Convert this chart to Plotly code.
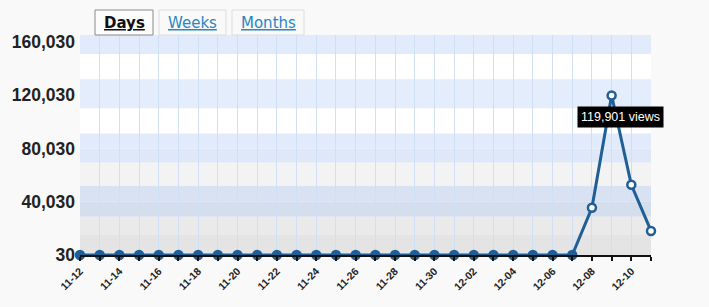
import plotly.graph_objects as go

dates = ["11-12", "11-13", "11-14", "11-15", "11-16", "11-17", "11-18", "11-19", "11-20", "11-21",
         "11-22", "11-23", "11-24", "11-25", "11-26", "11-27", "11-28", "11-29", "11-30", "12-01",
         "12-02", "12-03", "12-04", "12-05", "12-06", "12-07", "12-08", "12-09", "12-10", "12-11"]
views = [30] * 26 + [35500, 119901, 52800, 18100]
y_ticks = [30, 40030, 80030, 120030, 160030]
y_ticktext = ["30", "40,030", "80,030", "120,030", "160,030"]
x_ticktext = [d if i % 2 == 0 else "" for i, d in enumerate(dates)]
tooltip_text = "119,901 views"
tabs = ["Days", "Weeks", "Months"]

Y_MAX = 165300
LINE = "#1f5f96"
fills = [LINE if v <= 30 else "white" for v in views]

fig = go.Figure()
fig.add_trace(go.Scatter(
    x=dates, y=views, mode="lines+markers",
    line=dict(color=LINE, width=3),
    marker=dict(size=8, color=fills, line=dict(color=LINE, width=2.5)),
    cliponaxis=False, hoverinfo="skip",
))

shapes = []
def band(y0, y1, color):
    shapes.append(dict(type="rect", xref="paper", yref="y", x0=0, x1=1, y0=y0, y1=y1,
                       fillcolor=color, line=dict(width=0), layer="below"))

band(69400, Y_MAX, "#ffffff")
band(151000, Y_MAX, "#e2ebfb")
band(110200, 132100, "#e3edfc")
band(80000, 91300, "#e2ebfb")
band(69400, 80000, "#dfe8f8")
band(52100, 69400, "#f3f3f3")
band(40000, 52100, "#d9e2f2")
band(28700, 40000, "#d5deed")
band(15000, 28700, "#eaeaea")
band(30, 15000, "#e4e4e4")

# tabs
tab_px = [(95, 153), (159, 226), (232, 304)]
annotations = []
for i, (name, (a, b)) in enumerate(zip(tabs, tab_px)):
    x0 = (a - 80) / 571
    x1 = (b - 80) / 571
    shapes.append(dict(type="rect", xref="paper", yref="paper", x0=x0, x1=x1,
                       y0=1.0, y1=(255 - 10) / 220,
                       fillcolor="#fcfcfc" if i == 0 else "#f9f9f9",
                       line=dict(color="#8a8a8a" if i == 0 else "#dddddd", width=1),
                       layer="above"))
    if i == 0:
        txt = "<b><u>" + name + "</u></b>"
        col = "#111111"
    else:
        txt = "<u>" + name + "</u>"
        col = "#2a86c0"
    annotations.append(dict(xref="paper", yref="paper", x=(x0 + x1) / 2, y=(255 - 23) / 220,
                            text=txt, showarrow=False, xanchor="center", yanchor="middle",
                            font=dict(family="DejaVu Sans", size=15, color=col)))

annotations.append(dict(x=dates[27], y=views[27], xref="x", yref="y", text=tooltip_text,
                        showarrow=False, xshift=9, yshift=-22, bgcolor="#000000",
                        borderpad=3,
                        font=dict(family="Liberation Sans, Arial", size=12.5, color="white")))

fig.update_layout(
    width=709, height=307,
    margin=dict(l=80, r=58, t=35, b=52),
    paper_bgcolor="#f9f9f9", plot_bgcolor="#ffffff",
    showlegend=False,
    shapes=shapes, annotations=annotations,
    xaxis=dict(
        type="category", range=[0, len(dates) - 1],
        tickmode="array", tickvals=dates, ticktext=x_ticktext,
        tickangle=-45, tickfont=dict(family="Liberation Sans, Arial", size=10.5, color="#222222", weight="bold"),
        showgrid=True, gridcolor="#cfe0f6", gridwidth=1,
        showline=True, linecolor="#111111", linewidth=2,
        ticks="outside", ticklen=4, tickcolor="#111111", tickwidth=1.5,
        zeroline=False, fixedrange=True,
    ),
    yaxis=dict(
        range=[30, Y_MAX], tickmode="array", tickvals=y_ticks, ticktext=y_ticktext,
        tickfont=dict(family="Liberation Sans, Arial", size=17.5, color="#222222", weight="bold"),
        showgrid=False, zeroline=False, showline=False, ticks="", ticklabelstandoff=4,
        fixedrange=True,
    ),
)

fig.write_html("out.html")
